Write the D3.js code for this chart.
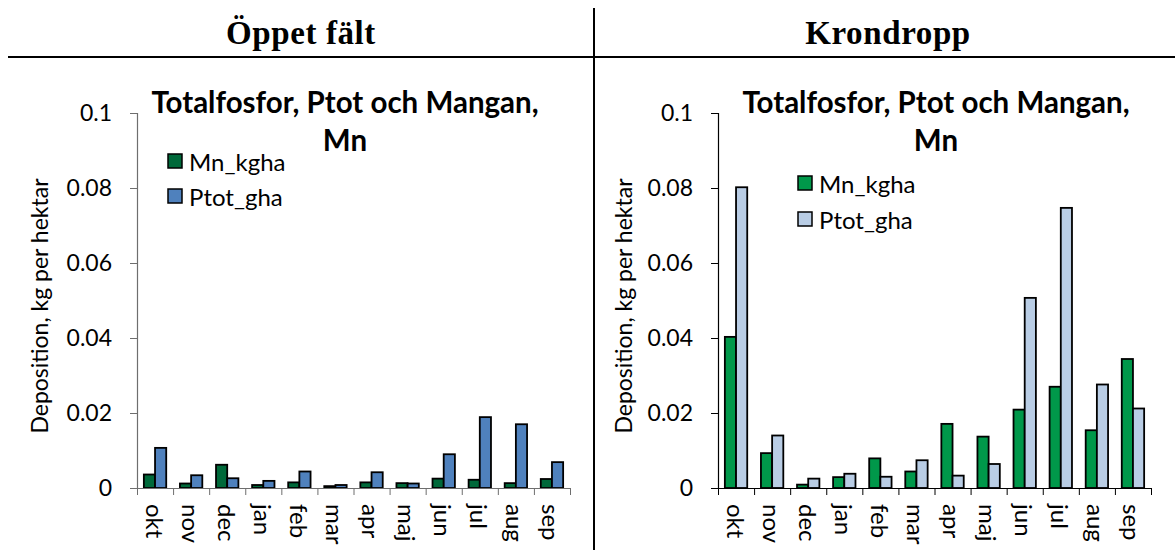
<!DOCTYPE html>
<html>
<head>
<meta charset="utf-8">
<script src="https://cdn.jsdelivr.net/npm/d3@7"></script>
<style>
  body { margin: 0; background: #fff; }
  svg { display: block; font-family: Lato, "Open Sans", sans-serif; }
</style>
</head>
<body>
<svg id="chart" width="1175" height="550"></svg>
<script>
// månader
const months = ["okt","nov","dec","jan","feb","mar","apr","maj","jun","jul","aug","sep"]
const seriesNames = ["Mn_kgha","Ptot_gha"]
const yTicks = [0, 0.02, 0.04, 0.06, 0.08, 0.1]

// Öppet fält
const oppetMn   = [0.0036,0.0012,0.0062,0.0008,0.0015,0.0005,0.0015,0.0013,0.0025,0.0022,0.0013,0.0024]
const oppetPtot = [0.0107,0.0034,0.0026,0.0019,0.0044,0.0008,0.0042,0.0012,0.0090,0.0189,0.0170,0.0069]

// Krondropp
const kronMn   = [0.0403,0.0093,0.0009,0.0029,0.0079,0.0044,0.0171,0.0137,0.0209,0.0270,0.0154,0.0344]
const kronPtot = [0.0802,0.0140,0.0025,0.0038,0.0030,0.0074,0.0033,0.0064,0.0507,0.0747,0.0276,0.0212]

const svg = d3.select("#chart")

// tabellramar
svg.append("line").attr("x1", 8).attr("x2", 1175).attr("y1", 57).attr("y2", 57)
  .attr("stroke", "#000").attr("stroke-width", 2)
svg.append("line").attr("x1", 594).attr("x2", 594).attr("y1", 8).attr("y2", 550)
  .attr("stroke", "#000").attr("stroke-width", 2)

function panel(opts) {
  const g = svg.append("g")
  const left = opts.left, right = left + 433
  const top = 113, bottom = 488

  g.append("text")
    .attr("x", opts.headX).attr("y", 44)
    .attr("text-anchor", "middle")
    .style("font-family", "'Liberation Serif', serif")
    .style("font-weight", "bold")
    .style("font-size", "33px")
    .style("letter-spacing", "0.6px")
    .text(opts.head)

  const y = d3.scaleLinear().domain([0, 0.1]).range([bottom, top])
  const x0 = d3.scaleBand().domain(months).range([left, right])
    .paddingInner(0.38).paddingOuter(0.19)
  const x1 = d3.scaleBand().domain(seriesNames).range([0, x0.bandwidth()])
  const xEdge = d3.scaleLinear().domain([0, months.length]).range([left, right])

  const rows = months.map((m, i) => ({ month: m, vals: [opts.mn[i], opts.ptot[i]] }))

  // staplar
  g.append("g").selectAll("g")
    .data(rows)
    .join("g")
    .attr("transform", d => `translate(${x0(d.month)},0)`)
    .selectAll("rect")
    .data(d => d.vals.map((v, k) => ({ key: seriesNames[k], v: v })))
    .join("rect")
    .attr("x", d => x1(d.key))
    .attr("y", d => y(d.v))
    .attr("width", x1.bandwidth())
    .attr("height", d => bottom - y(d.v))
    .attr("fill", d => d.key === "Mn_kgha" ? opts.colors[0] : opts.colors[1])
    .attr("stroke", "#000")
    .attr("stroke-width", 1.8)

  // y-axel
  const ya = g.append("g")
    .attr("transform", `translate(${left},0)`)
    .call(d3.axisLeft(y).tickValues(yTicks).tickSize(7).tickPadding(18)
      .tickFormat(d => d === 0 ? "0" : String(+d.toFixed(2))))
  ya.select(".domain").attr("stroke", opts.axisColor).attr("stroke-width", 1.2)
  ya.selectAll(".tick line").attr("stroke", opts.axisColor)
  ya.selectAll("text").style("font-size", "23px").style("font-family", "Lato, sans-serif").attr("fill", "#000")

  // x-axel
  const xa = g.append("g")
    .attr("transform", `translate(0,${bottom})`)
    .call(d3.axisBottom(xEdge).tickValues(d3.range(months.length + 1)).tickSize(7).tickSizeOuter(0).tickFormat(""))
  xa.select(".domain").attr("stroke", opts.axisColor).attr("stroke-width", 1.2)
  xa.selectAll(".tick line").attr("stroke", opts.axisColor)

  g.append("g").selectAll("text")
    .data(months)
    .join("text")
    .attr("transform", d => `translate(${x0(d) + x0.bandwidth() / 2},504) rotate(90)`)
    .attr("dominant-baseline", "central")
    .style("font-size", "24px")
    .text(d => d)

  // axeltitel
  g.append("text")
    .attr("transform", `translate(${opts.labelX},306) rotate(-90)`)
    .attr("text-anchor", "middle")
    .style("font-size", "23px")
    .text("Deposition, kg per hektar")

  // diagramtitel
  const t = g.append("text")
    .attr("text-anchor", "middle")
    .style("font-size", "29.5px")
    .style("font-weight", "bold")
  t.append("tspan").attr("x", opts.titleX).attr("y", 113).text("Totalfosfor, Ptot och Mangan,")
  t.append("tspan").attr("x", opts.titleX).attr("y", 151).text("Mn")

  // förklaring
  const lg = g.append("g").selectAll("g")
    .data(seriesNames)
    .join("g")
    .attr("transform", (d, i) => `translate(${opts.legendX},${opts.legendY + i * opts.legendStep})`)
  lg.append("rect")
    .attr("x", 0).attr("y", -7).attr("width", 14).attr("height", 14)
    .attr("fill", (d, i) => opts.colors[i])
    .attr("stroke", "#000").attr("stroke-width", 1.5)
  lg.append("text")
    .attr("x", 21).attr("y", 0)
    .attr("dominant-baseline", "central")
    .style("font-size", "24px")
    .text(d => d)
}

panel({
  head: "Öppet fält", headX: 301, left: 137, titleX: 345, labelX: 48,
  mn: oppetMn, ptot: oppetPtot,
  colors: ["#00693a", "#4f81bd"], axisColor: "#6e6e6e",
  legendX: 168, legendY: 161, legendStep: 35
})
panel({
  head: "Krondropp", headX: 888, left: 718, titleX: 936, labelX: 632,
  mn: kronMn, ptot: kronPtot,
  colors: ["#00984a", "#b9cde5"], axisColor: "#000",
  legendX: 798, legendY: 183, legendStep: 36
})
</script>
</body>
</html>
